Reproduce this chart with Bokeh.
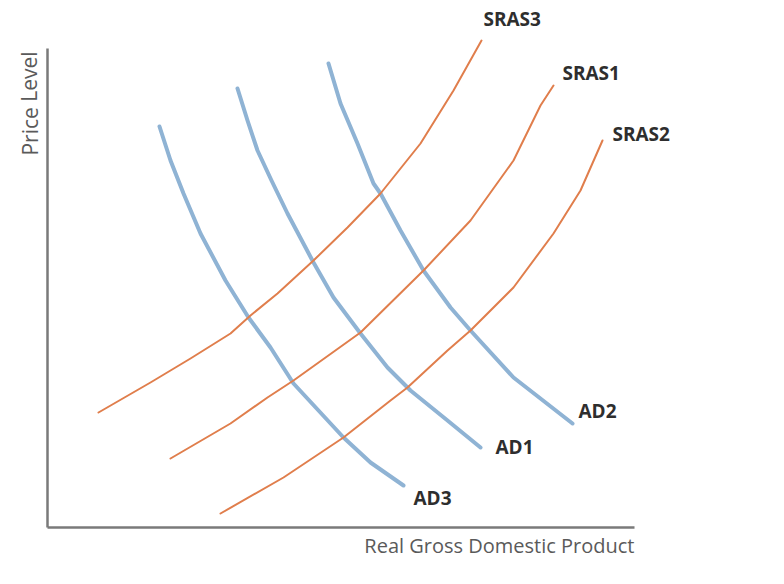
from bokeh.plotting import figure
from bokeh.models import Range1d, ColumnDataSource
from bokeh.core.properties import value
from bokeh.embed import file_html
from bokeh.resources import INLINE

# ---- data (GDP on x, price level on y; arbitrary units) ----
sras3_gdp   = [98, 150, 190, 230, 250, 277, 313, 347, 380, 420, 453, 481]
sras3_price = [172, 202, 226, 251, 269, 291, 324, 357, 391, 441, 494, 544]

sras1_gdp   = [170, 230, 267, 293, 360, 423, 470, 513, 540, 553]
sras1_price = [126, 161, 187, 204, 252, 314, 364, 424, 479, 499]

sras2_gdp   = [220, 283, 343, 390, 407, 447, 470, 513, 553, 580, 602]
sras2_price = [71, 107, 147, 184, 197, 234, 254, 297, 351, 394, 444]

ad3_gdp   = [159, 170, 183, 200, 225, 248, 270, 293, 343, 370, 403]
ad3_price = [458, 424, 391, 351, 304, 267, 237, 201, 147, 122, 99]

ad1_gdp   = [237, 247, 257, 271, 287, 313, 333, 360, 387, 410, 447, 480]
ad1_price = [496, 464, 434, 404, 371, 322, 287, 251, 217, 194, 164, 137]

ad2_gdp   = [328, 340, 357, 373, 380, 400, 423, 450, 470, 513, 572]
ad2_price = [521, 481, 441, 401, 391, 354, 314, 277, 254, 207, 161]

curve_names = ["SRAS3", "SRAS1", "SRAS2", "AD2", "AD1", "AD3"]

x_axis_title = "Real Gross Domestic Product"
y_axis_title = "Price Level"

# ---- styling ----
ORANGE = "#E07E4C"
BLUE = "#8FB3D4"
AXIS = "#7A7A7A"
TEXT_DARK = "#2E2E2E"
TEXT_GRAY = "#5A5A5A"

W, H = 784, 584
p = figure(width=W, height=H, output_backend="svg", toolbar_location=None,
           x_range=Range1d(0, W), y_range=Range1d(0, H),
           min_border=0, outline_line_color=None)
p.axis.visible = False
p.grid.visible = False
p.background_fill_color = "white"
p.border_fill_color = "white"

# axes (origin and extents)
x0, y0 = 47, 57
x_end, y_end = 634, 536
p.line([x0, x0], [y0, y_end], line_color=AXIS, line_width=2.5)
p.line([x0, x_end], [y0, y0], line_color=AXIS, line_width=2.5)

curves = {
    "SRAS3": (sras3_gdp, sras3_price, ORANGE, 2),
    "SRAS1": (sras1_gdp, sras1_price, ORANGE, 2),
    "SRAS2": (sras2_gdp, sras2_price, ORANGE, 2),
    "AD2": (ad2_gdp, ad2_price, BLUE, 4),
    "AD1": (ad1_gdp, ad1_price, BLUE, 4),
    "AD3": (ad3_gdp, ad3_price, BLUE, 4),
}
for name in ["AD3", "AD1", "AD2", "SRAS3", "SRAS1", "SRAS2"]:
    xs, ys, col, lw = curves[name]
    p.line(xs, ys, line_color=col, line_width=lw, line_cap="round", line_join="round")

# labels anchored at the end of each curve, with screen offsets
offsets = {"SRAS3": (2, -22), "SRAS1": (9, -13), "SRAS2": (10, -7),
           "AD2": (6, -13), "AD1": (15, -1), "AD3": (10, 12)}
lab = ColumnDataSource(dict(
    x=[curves[n][0][-1] for n in curve_names],
    y=[curves[n][1][-1] for n in curve_names],
    text=curve_names,
    xo=[offsets[n][0] for n in curve_names],
    yo=[offsets[n][1] for n in curve_names],
))
p.text(x="x", y="y", text="text", x_offset="xo", y_offset="yo", source=lab,
       text_font=value("Open Sans"), text_font_style="bold", text_font_size="19px",
       text_color=TEXT_DARK, text_align="left", text_baseline="middle")

# axis titles
p.text(x=[x_end], y=[y0], text=[x_axis_title], y_offset=[18],
       text_font=value("Open Sans"), text_font_size="20px", text_color=TEXT_GRAY,
       text_align="right", text_baseline="middle")
p.text(x=[x0], y=[y_end], text=[y_axis_title], x_offset=[-18], y_offset=[55],
       angle=1.5708, text_font=value("Open Sans"), text_font_size="21px",
       text_color=TEXT_GRAY, text_align="center", text_baseline="middle")

open("out.html", "w").write(file_html(p, INLINE))
